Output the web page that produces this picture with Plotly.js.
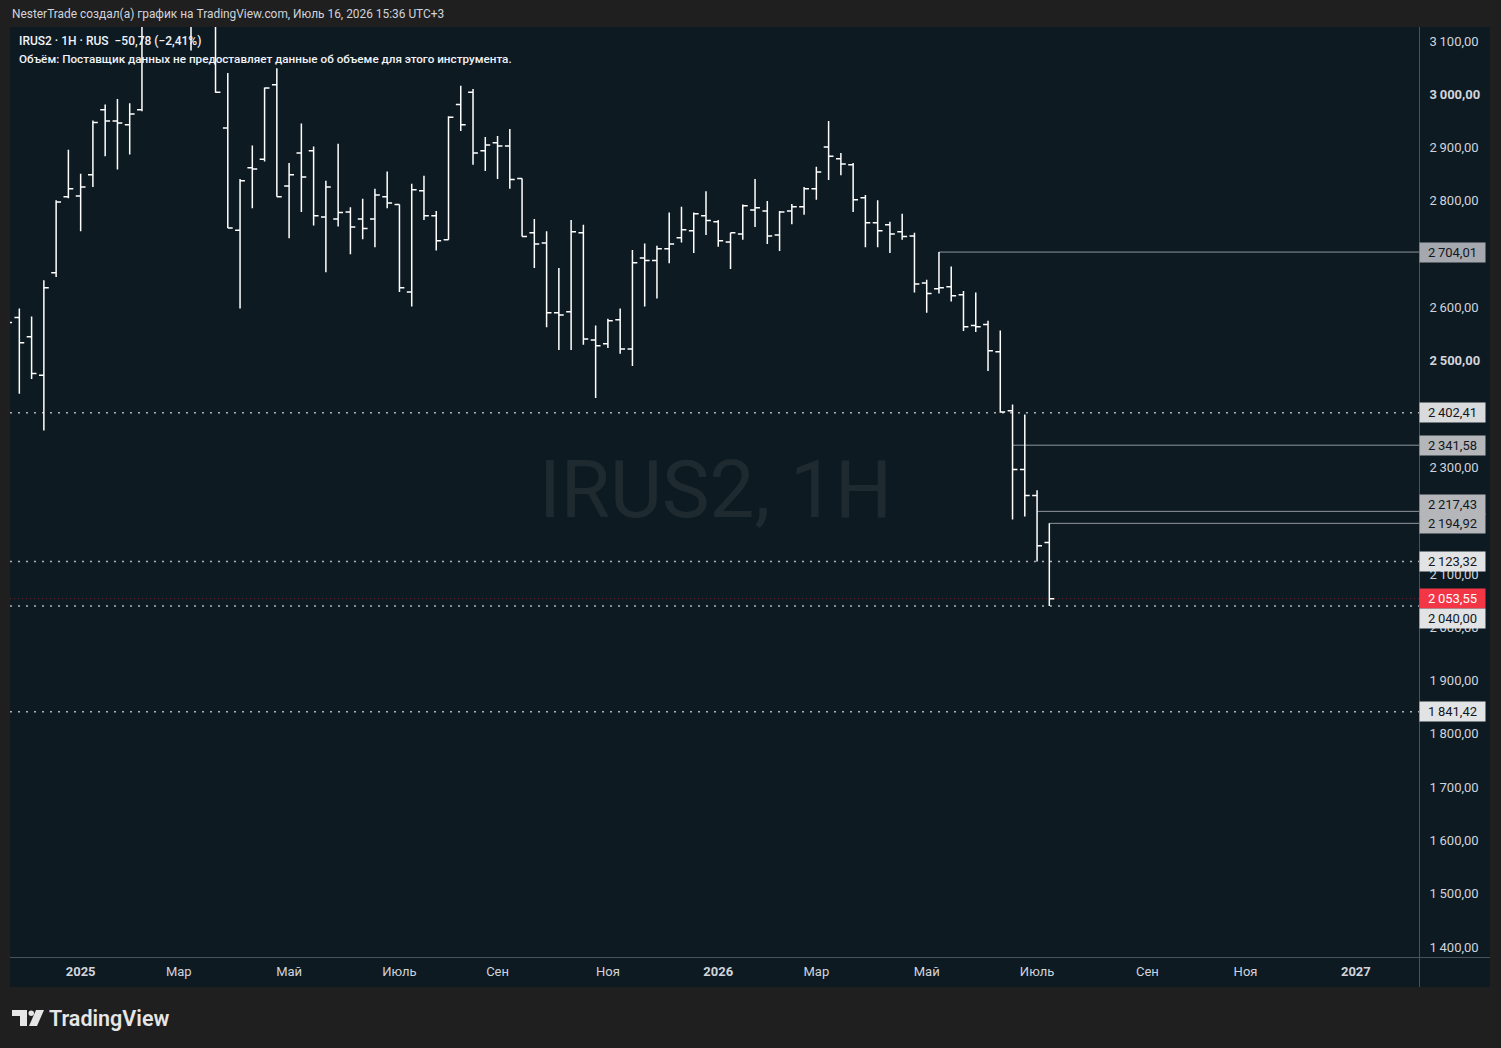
<!DOCTYPE html>
<html>
<head>
<meta charset="utf-8">
<script src="https://cdn.plot.ly/plotly-3.0.1.min.js"></script>
<style>
  html, body { margin: 0; padding: 0; background: #1f1f1f; }
  #chart { width: 1501px; height: 1048px; }
</style>
</head>
<body>
<div id="chart"></div>
<script>
// ---------- DATA (weekly bars, Monday dates) ----------
const dates = [
  '2024-11-25','2024-12-02','2024-12-09','2024-12-16','2024-12-23','2024-12-30',
  '2025-01-06','2025-01-13','2025-01-20','2025-01-27','2025-02-03','2025-02-10','2025-02-17','2025-02-24',
  '2025-03-03','2025-03-10','2025-03-17','2025-03-24','2025-03-31','2025-04-07','2025-04-14','2025-04-21','2025-04-28',
  '2025-05-05','2025-05-12','2025-05-19','2025-05-26','2025-06-02','2025-06-09','2025-06-16','2025-06-23','2025-06-30',
  '2025-07-07','2025-07-14','2025-07-21','2025-07-28','2025-08-04','2025-08-11','2025-08-18','2025-08-25',
  '2025-09-01','2025-09-08','2025-09-15','2025-09-22','2025-09-29','2025-10-06','2025-10-13','2025-10-20','2025-10-27',
  '2025-11-03','2025-11-10','2025-11-17','2025-11-24','2025-12-01','2025-12-08','2025-12-15','2025-12-22','2025-12-29',
  '2026-01-05','2026-01-12','2026-01-19','2026-01-26','2026-02-02','2026-02-09','2026-02-16','2026-02-23',
  '2026-03-02','2026-03-09','2026-03-16','2026-03-23','2026-03-30','2026-04-06','2026-04-13','2026-04-20','2026-04-27',
  '2026-05-04','2026-05-11','2026-05-18','2026-05-25','2026-06-01','2026-06-08','2026-06-15','2026-06-22','2026-06-29',
  '2026-07-06','2026-07-13'
];
const openVals = [
  2560,2581,2545,2473,2665,2808,
  2809,2849,2971,2950,2943,2971,3150,3220,
  3250,3200,3150,3165,2937,2745,2862,2878,3018,
  2828,2890,2894,2770,2766,2779,2766,2766,2808,
  2793,2629,2819,2772,2727,2981,3004,2894,
  2909,2903,2842,2740,2721,2590,2592,2740,2539,
  2532,2577,2522,2693,2688,2710,2731,2744,2772,
  2761,2723,2738,2783,2781,2736,2781,2789,
  2823,2901,2879,2868,2806,2759,2755,2742,2734,
  2646,2635,2639,2624,2566,2568,2517,2406,2296,
  2247,2159
];
const highVals = [
  2600,2598,2583,2651,2801,2896,
  2851,2951,2981,2991,2983,3180,3260,3290,
  3310,3240,3200,3190,3040,2841,2904,3013,3049,
  2871,2945,2902,2838,2907,2788,2804,2823,2855,
  2793,2832,2847,2781,2959,3016,3010,2920,
  2922,2935,2842,2766,2743,2674,2764,2755,2566,
  2579,2598,2708,2720,2716,2778,2789,2778,2818,
  2764,2740,2793,2841,2800,2781,2794,2826,
  2864,2950,2890,2871,2811,2801,2761,2776,2740,
  2652,2704.01,2677,2631,2628,2575,2557,2418,2399,
  2257,2194.92
];
const lowVals = [
  2530,2438,2466,2369,2657,2805,
  2743,2826,2884,2859,2887,2968,3140,3180,
  3170,3082,3130,3003,2749,2598,2786,2874,2808,
  2730,2779,2754,2666,2752,2700,2728,2713,2786,
  2629,2602,2764,2707,2727,2931,2868,2856,
  2841,2823,2733,2674,2563,2520,2520,2530,2430,
  2524,2513,2490,2602,2617,2683,2722,2702,2736,
  2714,2672,2727,2751,2719,2706,2756,2774,
  2802,2839,2848,2779,2713,2713,2702,2727,2628,
  2590,2626,2611,2556,2554,2481,2402.41,2202,2208,
  2123.32,2040
];
const closeVals = [
  2572,2534,2476,2637,2798,2823,
  2826,2947,2950,2946,2963,3150,3220,3250,
  3200,3150,3170,3004,2749,2838,2860,3012,2808,
  2849,2845,2772,2826,2778,2751,2748,2811,2796,
  2637,2821,2772,2725,2957,2943,2890,2905,
  2903,2840,2733,2719,2590,2586,2742,2541,2528,
  2575,2522,2684,2688,2710,2719,2746,2776,2763,
  2725,2740,2791,2787,2734,2779,2789,2823,
  2854,2884,2869,2802,2759,2744,2738,2733,2644,
  2626,2637,2622,2564,2564,2519,2404,2296,2247,
  2153,2053.55
];

// axis ticks
const priceTicks = [1400,1500,1600,1700,1800,1900,2000,2100,2200,2300,2400,2500,2600,2700,2800,2900,3000,3100];
const boldPriceTicks = [2500, 3000];
const timeTickDates = ['2025-01-06','2025-03-03','2025-05-05','2025-07-07','2025-09-01','2025-11-03',
                       '2026-01-05','2026-03-02','2026-05-04','2026-07-06','2026-09-07','2026-11-02','2027-01-04'];
const timeTickText  = ['<b>2025</b>','Мар','Май','Июль','Сен','Ноя','<b>2026</b>','Мар','Май','Июль','Сен','Ноя','<b>2027</b>'];

// horizontal levels
const solidLevels      = [2704.01, 2341.58, 2217.43, 2194.92];
const solidLevelStarts = ['2026-05-11','2026-06-22','2026-07-06','2026-07-13'];
const dottedLevels     = [2402.41, 2123.32, 2040.00, 1841.42];
const lastPrice = 2053.55;

// ---------- layout helpers ----------
const W = 1501, H = 1048;
const M = {l: 10, r: 82, t: 27, b: 91};
const PW = W - M.l - M.r, PH = H - M.t - M.b;
const px = x => (x - M.l) / PW;
const py = y => (H - M.b - y) / PH;
const fmt = v => {
  const s = v.toFixed(2).split('.');
  const intPart = s[0].replace(/\B(?=(\d{3})+(?!\d))/g, '\u2009');
  return intPart + ',' + s[1];
};
const xEnd = '2027-02-09 01:00';

const FONT = 'Roboto, "Noto Sans", sans-serif';
const TXT = '#d1d4dc';

const trace = {
  type: 'ohlc',
  x: dates, open: openVals, high: highVals, low: lowVals, close: closeVals,
  increasing: {line: {color: '#ffffff', width: 1.5}},
  decreasing: {line: {color: '#ffffff', width: 1.5}},
  tickwidth: 0.4,
  hoverinfo: 'skip',
  showlegend: false
};

const shapes = [];
// dark chart frame (plot + axes area)
shapes.push({type: 'rect', xref: 'paper', yref: 'paper', layer: 'below',
  x0: px(10), x1: px(1490), y0: py(987), y1: py(27),
  fillcolor: '#0e1a21', line: {width: 0}});
// separators
shapes.push({type: 'line', xref: 'paper', yref: 'paper', layer: 'above',
  x0: px(1419.5), x1: px(1419.5), y0: py(987), y1: py(27), line: {color: '#4a5258', width: 1}});
shapes.push({type: 'line', xref: 'paper', yref: 'paper', layer: 'above',
  x0: px(10), x1: px(1490), y0: py(957.5), y1: py(957.5), line: {color: '#4a5258', width: 1}});
// dotted levels
dottedLevels.forEach(v => shapes.push({type: 'line', xref: 'paper', yref: 'y', layer: 'below',
  x0: 0, x1: 1, y0: v, y1: v, line: {color: '#aeb2b8', width: 1.5, dash: '2px,6px'}}));
// last price line
shapes.push({type: 'line', xref: 'paper', yref: 'y', layer: 'below',
  x0: 0, x1: 1, y0: lastPrice, y1: lastPrice, line: {color: 'rgba(242,54,69,0.45)', width: 1, dash: '1px,3px'}});
// solid levels
solidLevels.forEach((v, i) => shapes.push({type: 'line', xref: 'x', yref: 'y', layer: 'below',
  x0: solidLevelStarts[i], x1: xEnd, y0: v, y1: v, line: {color: '#8f949b', width: 1}}));
// TradingView logo icon
shapes.push({type: 'path', xref: 'paper', yref: 'paper', layer: 'above',
  path: `M ${px(12)} ${py(1010)} L ${px(27)} ${py(1010)} L ${px(27)} ${py(1026)} L ${px(20)} ${py(1026)} L ${px(20)} ${py(1016)} L ${px(12)} ${py(1016)} Z`,
  fillcolor: '#e6e6e6', line: {width: 0}});
shapes.push({type: 'circle', xref: 'paper', yref: 'paper', layer: 'above',
  x0: px(28.5), x1: px(34), y0: py(1016), y1: py(1010.5), fillcolor: '#e6e6e6', line: {width: 0}});
shapes.push({type: 'path', xref: 'paper', yref: 'paper', layer: 'above',
  path: `M ${px(36)} ${py(1010)} L ${px(44)} ${py(1010)} L ${px(37)} ${py(1026)} L ${px(29)} ${py(1026)} Z`,
  fillcolor: '#e6e6e6', line: {width: 0}});

const annotations = [];
// header
annotations.push({xref: 'paper', yref: 'paper', x: px(10), y: py(14), xanchor: 'left', yanchor: 'middle',
  text: 'NesterTrade создал(а) график на TradingView.com, Июль 16, 2026 15:36 UTC+3',
  showarrow: false, font: {family: FONT, size: 11.9, color: TXT}});
// legend
annotations.push({xref: 'paper', yref: 'paper', x: px(17), y: py(41), xanchor: 'left', yanchor: 'middle',
  text: 'IRUS2 · 1H · RUS  −50,78 (−2,41%)',
  showarrow: false, font: {family: FONT, size: 12, color: '#f0f3fa', weight: 500}});
annotations.push({xref: 'paper', yref: 'paper', x: px(17), y: py(59), xanchor: 'left', yanchor: 'middle',
  text: 'Объём: Поставщик данных не предоставляет данные об объеме для этого инструмента.',
  showarrow: false, font: {family: FONT, size: 11.7, color: '#f0f3fa', weight: 500}});
// watermark
annotations.push({xref: 'paper', yref: 'paper', x: px(715), y: py(490), xanchor: 'center', yanchor: 'middle',
  text: 'IRUS2, 1H', showarrow: false,
  font: {family: FONT, size: 80, color: 'rgba(255,255,255,0.07)'}});
// logo text
annotations.push({xref: 'paper', yref: 'paper', x: px(47), y: py(1018), xanchor: 'left', yanchor: 'middle',
  text: 'TradingView', showarrow: false,
  font: {family: FONT, size: 21.5, color: '#e6e6e6', weight: 600}});

// price labels on axis
const labelDefs = [
  {v: 2704.01, bg: '#a5a8ae', fg: '#131722', shift: 0},
  {v: 2402.41, bg: '#d9dadc', fg: '#131722', shift: 0},
  {v: 2341.58, bg: '#b4b6ba', fg: '#131722', shift: 0},
  {v: 2217.43, bg: '#b4b6ba', fg: '#131722', shift: 7},
  {v: 2194.92, bg: '#b4b6ba', fg: '#131722', shift: 0},
  {v: 2123.32, bg: '#e2e3e5', fg: '#131722', shift: 0},
  {v: 2053.55, bg: '#f23645', fg: '#ffffff', shift: 0},
  {v: 2040.00, bg: '#e2e3e5', fg: '#131722', shift: -13},
  {v: 1841.42, bg: '#e2e3e5', fg: '#131722', shift: 0}
];
labelDefs.forEach(d => annotations.push({
  xref: 'paper', yref: 'y', x: px(1452.5), y: d.v, yshift: d.shift,
  xanchor: 'center', yanchor: 'middle', showarrow: false,
  text: fmt(d.v), bgcolor: d.bg, width: 63, height: 17, borderpad: 1, align: 'center',
  font: {family: FONT, size: 13, color: d.fg}
}));

const layout = {
  width: W, height: H,
  margin: M,
  paper_bgcolor: '#1f1f1f',
  plot_bgcolor: '#0e1a21',
  showlegend: false,
  dragmode: false,
  xaxis: {
    type: 'date',
    range: ['2024-11-26 16:00', xEnd],
    rangeslider: {visible: false},
    showgrid: false, zeroline: false, showline: false,
    tickmode: 'array', tickvals: timeTickDates, ticktext: timeTickText,
    ticks: 'outside', ticklen: 2, tickcolor: 'rgba(0,0,0,0)',
    tickfont: {family: FONT, size: 13, color: TXT}
  },
  yaxis: {
    side: 'right',
    range: [1381.2, 3126.3],
    showgrid: false, zeroline: false, showline: false,
    tickmode: 'array', tickvals: priceTicks,
    ticktext: priceTicks.map(v => boldPriceTicks.includes(v) ? '<b>' + fmt(v) + '</b>' : fmt(v)),
    ticks: 'outside', ticklen: 7, tickcolor: 'rgba(0,0,0,0)',
    tickfont: {family: FONT, size: 13, color: TXT}
  },
  shapes: shapes,
  annotations: annotations
};

Plotly.newPlot('chart', [trace], layout, {displayModeBar: false, staticPlot: true});
</script>
</body>
</html>
